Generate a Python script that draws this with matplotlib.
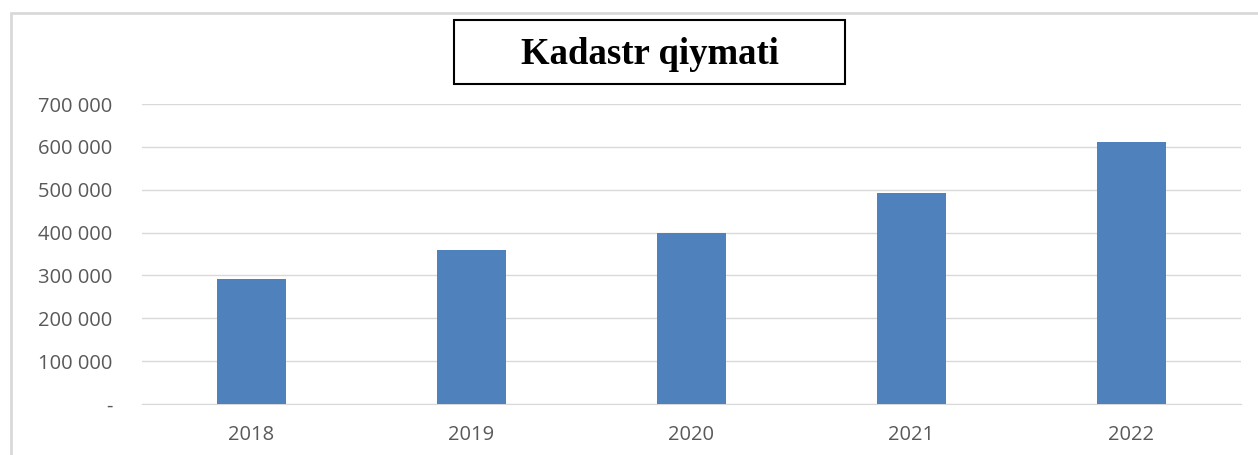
import matplotlib.pyplot as plt
from matplotlib.patches import Rectangle
from matplotlib.ticker import FuncFormatter, MultipleLocator

years = ['2018', '2019', '2020', '2021', '2022']
values = [292000, 359000, 399000, 492000, 611000]
title = 'Kadastr qiymati'

W, H = 1258, 455
fig = plt.figure(figsize=(W / 100, H / 100), dpi=100)

# outer chart border (runs off right/bottom edge)
fig.patches.append(Rectangle((11 / W, -0.1), 1.2, 1 - 13 / H + 0.1,
                             transform=fig.transFigure, fill=False,
                             edgecolor='#d9d9d9', linewidth=2))

ax = fig.add_axes([141.5 / W, 1 - 404 / H, (1241 - 141.5) / W, 300 / H])
x = range(len(years))
ax.bar(x, values, width=0.314, color='#4f81bd', zorder=3)
ax.set_xlim(-0.5, 4.5)
ax.set_ylim(0, 700000)
ax.yaxis.set_major_locator(MultipleLocator(100000))


def fmt(v, pos):
    if v == 0:
        return '-'
    return f'{int(v):,}'.replace(',', ' ')


ax.yaxis.set_major_formatter(FuncFormatter(fmt))
ax.set_xticks(list(x))
ax.set_xticklabels(years)
ax.grid(axis='y', color='#d9d9d9', linewidth=1, zorder=0)
for s in ['top', 'right', 'left']:
    ax.spines[s].set_visible(False)
ax.spines['bottom'].set_color('#d9d9d9')
ax.tick_params(length=0, labelsize=14.5, labelcolor='#595959')
ax.tick_params(axis='y', pad=21)
ax.tick_params(axis='x', pad=15)
for lab in ax.get_xticklabels() + ax.get_yticklabels():
    lab.set_family('Open Sans')

fig.text(649.5 / W, 1 - 54 / H, title, ha='center', va='center',
         fontsize=26.5, fontweight='bold', family='Liberation Serif')
fig.patches.append(Rectangle((454 / W, 1 - 84 / H), 391 / W, 64 / H,
                             transform=fig.transFigure, fill=False,
                             edgecolor='black', linewidth=1.5))

fig.savefig('out.png', dpi=100)
